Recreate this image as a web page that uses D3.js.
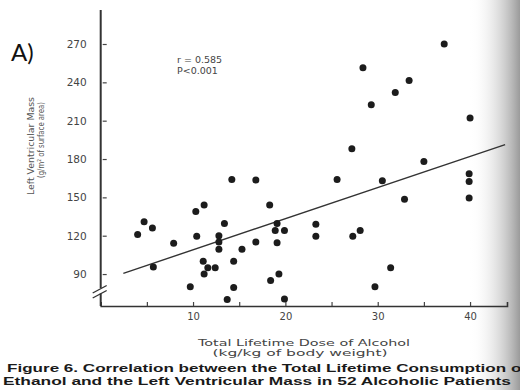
<!DOCTYPE html>
<html>
<head>
<meta charset="utf-8">
<script src="https://cdn.jsdelivr.net/npm/d3@7"></script>
<style>
  body { margin: 0; background: #fff; }
  svg { display: block; }
</style>
</head>
<body>
<svg class="chart" width="520" height="390"></svg>
<script>
// total lifetime dose of alcohol (kg/kg body weight)
var doseX = [4.0, 4.7, 5.6, 7.9, 5.7, 9.7, 10.3, 11.2, 10.4, 11.1, 11.2, 11.6, 12.4,
             14.2, 16.8, 13.4, 12.8, 12.8, 12.8, 15.3, 14.4, 13.7, 14.4, 16.8, 18.3, 19.1,
             18.9, 19.9, 19.1, 19.3, 18.4, 19.9, 25.6, 30.5, 23.3, 23.3, 28.1, 27.3, 31.4,
             29.7, 27.2, 37.2, 28.4, 33.4, 31.9, 29.3, 40.0, 35.0, 39.9, 39.9, 39.9, 32.9];
// left ventricular mass (g/m2)
var lvMass = [121, 131, 126, 114, 95.5, 80, 139, 144, 119.5, 100, 90, 95, 95,
              164, 163.5, 129.5, 120, 115, 109.5, 109.5, 100, 70, 79.5, 115, 144, 129.5,
              124, 124, 114.5, 90, 85, 70.5, 164, 163, 129, 119.5, 124, 119.5, 95,
              80, 188, 270, 251.5, 241.5, 232, 222.5, 212, 178, 168.5, 162.5, 149.5, 148.5];

var xTicks = [5, 10, 15, 20, 25, 30, 35, 40];
var yTicks = [90, 120, 150, 180, 210, 240, 270];
var fitRange = [2.45, 43.8];
var fitIntercept = 84.6, fitSlope = 2.435;
var statLines = ["r = 0.585", "P<0.001"];

var svg = d3.select(".chart");

var x = d3.scaleLinear().domain([0, 44]).range([100.7, 507]);
var y = d3.scaleLinear().domain([65, 296.6]).range([306, 10]);

// scanned page shadow on the right
var defs = svg.append("defs");
var grad = defs.append("linearGradient").attr("id", "shade");
grad.append("stop").attr("offset", "0").attr("stop-color", "#fff").attr("stop-opacity", 0);
grad.append("stop").attr("offset", "1").attr("stop-color", "#8f8f8f").attr("stop-opacity", 0.9);
svg.append("rect")
    .attr("x", 470).attr("y", 0)
    .attr("width", 50).attr("height", 390)
    .attr("fill", "url(#shade)");

// y axis (ticks inward, labels outside)
var gy = svg.append("g")
    .attr("transform", "translate(" + x(0) + ",0)")
    .call(d3.axisLeft(y)
      .tickValues(yTicks)
      .tickSize(-6)
      .tickPadding(14));
gy.select(".domain").remove();
gy.selectAll(".tick line").attr("stroke", "#444").attr("stroke-width", 1.2).attr("x1", 2);
gy.selectAll(".tick text")
    .attr("fill", "#444")
    .attr("font-family", "DejaVu Sans")
    .attr("font-size", 10.5);

// y axis line with a break
svg.append("line")
    .attr("x1", x(0)).attr("x2", x(0))
    .attr("y1", y(296.6)).attr("y2", 288)
    .attr("stroke", "#333").attr("stroke-width", 2);
svg.append("line")
    .attr("x1", x(0)).attr("x2", x(0))
    .attr("y1", 293.5).attr("y2", y(65))
    .attr("stroke", "#333").attr("stroke-width", 2);
[0, 5].forEach(function(o) {
  svg.append("line")
      .attr("x1", x(0) - 8).attr("y1", 293 + o)
      .attr("x2", x(0) + 6).attr("y2", 285.5 + o)
      .attr("stroke", "#333").attr("stroke-width", 1.4);
});

// x axis
var gx = svg.append("g")
    .attr("transform", "translate(0," + y(65) + ")")
    .call(d3.axisBottom(x)
      .tickValues(xTicks)
      .tickSize(-4)
      .tickPadding(7)
      .tickFormat(function(d) { return d % 10 === 0 ? d : ""; }));
gx.select(".domain").attr("stroke", "#333").attr("stroke-width", 1.6);
gx.selectAll(".tick line").attr("stroke", "#444").attr("stroke-width", 1.2);
gx.selectAll(".tick text")
    .attr("fill", "#444")
    .attr("font-family", "DejaVu Sans")
    .attr("font-size", 10);

// regression line
svg.append("line")
    .attr("x1", x(fitRange[0])).attr("y1", y(fitIntercept + fitSlope * fitRange[0]))
    .attr("x2", x(fitRange[1])).attr("y2", y(fitIntercept + fitSlope * fitRange[1]))
    .attr("stroke", "#333")
    .attr("stroke-width", 1.4);

// points
svg.selectAll("circle.pt")
  .data(doseX.map(function(d, i) { return [d, lvMass[i]]; }))
  .enter().append("circle")
    .attr("class", "pt")
    .attr("cx", function(d) { return x(d[0]); })
    .attr("cy", function(d) { return y(d[1]); })
    .attr("r", 3.5)
    .attr("fill", "#1c1c1c");

// stats
svg.selectAll("text.stat")
  .data(statLines)
  .enter().append("text")
    .attr("class", "stat")
    .attr("x", 177)
    .attr("y", function(d, i) { return 63 + i * 11; })
    .attr("fill", "#444")
    .attr("font-family", "DejaVu Sans")
    .attr("font-size", 9.5)
    .text(function(d) { return d; });

// y title
svg.append("text")
    .attr("transform", "translate(34,146) rotate(-90)")
    .attr("text-anchor", "middle")
    .attr("fill", "#555")
    .attr("font-family", "DejaVu Sans")
    .attr("font-size", 8.5)
    .attr("textLength", 98)
    .attr("lengthAdjust", "spacingAndGlyphs")
    .text("Left Ventricular Mass");
svg.append("text")
    .attr("transform", "translate(44,140) rotate(-90)")
    .attr("text-anchor", "middle")
    .attr("fill", "#555")
    .attr("font-family", "DejaVu Sans")
    .attr("font-size", 8.5)
    .attr("textLength", 76)
    .attr("lengthAdjust", "spacingAndGlyphs")
    .text("(g/m² of surface area)");

// x title
svg.append("text")
    .attr("x", 304).attr("y", 346)
    .attr("text-anchor", "middle")
    .attr("fill", "#444")
    .attr("font-family", "DejaVu Sans")
    .attr("font-size", 8.8)
    .attr("textLength", 212)
    .attr("lengthAdjust", "spacingAndGlyphs")
    .text("Total Lifetime Dose of Alcohol");
svg.append("text")
    .attr("x", 300).attr("y", 356)
    .attr("text-anchor", "middle")
    .attr("fill", "#444")
    .attr("font-family", "DejaVu Sans")
    .attr("font-size", 8.8)
    .attr("textLength", 175)
    .attr("lengthAdjust", "spacingAndGlyphs")
    .text("(kg/kg of body weight)");

// caption
svg.append("text")
    .attr("x", 7).attr("y", 372)
    .attr("fill", "#1a1a1a")
    .attr("font-family", "Liberation Sans")
    .attr("font-weight", "bold")
    .attr("font-size", 11.5)
    .attr("textLength", 520)
    .attr("lengthAdjust", "spacingAndGlyphs")
    .text("Figure 6. Correlation between the Total Lifetime Consumption of");
svg.append("text")
    .attr("x", 3).attr("y", 385)
    .attr("fill", "#1a1a1a")
    .attr("font-family", "Liberation Sans")
    .attr("font-weight", "bold")
    .attr("font-size", 11.5)
    .attr("textLength", 508)
    .attr("lengthAdjust", "spacingAndGlyphs")
    .text("Ethanol and the Left Ventricular Mass in 52 Alcoholic Patients");

// panel label
svg.append("text")
    .attr("x", 11).attr("y", 61)
    .attr("fill", "#111")
    .attr("font-family", "Lato")
    .attr("font-size", 24)
    .text("A)");
</script>
</body>
</html>
